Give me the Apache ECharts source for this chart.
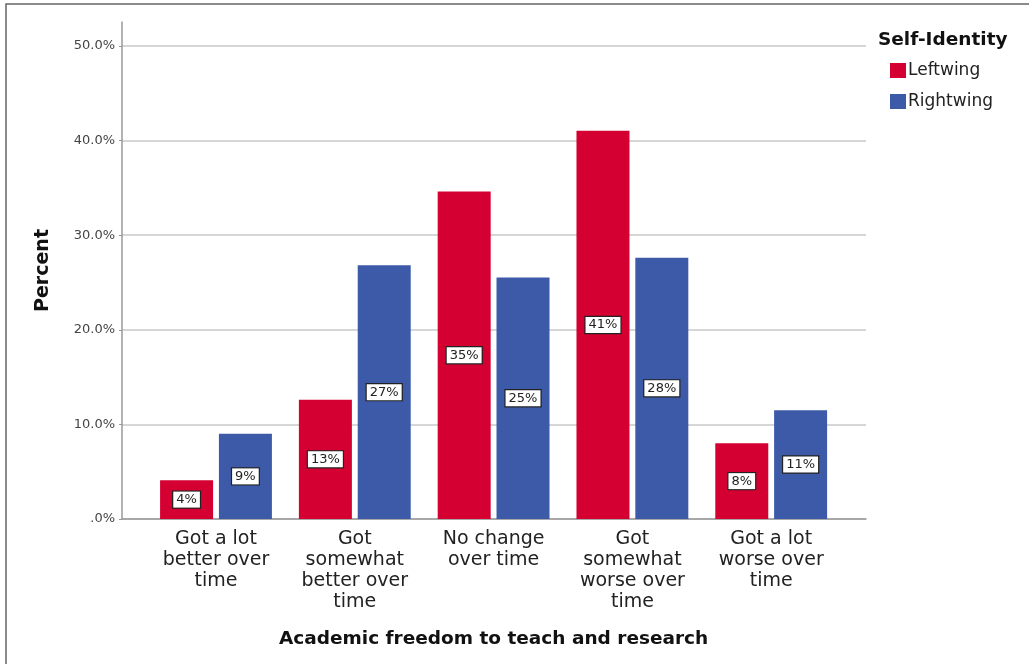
<!DOCTYPE html>
<html>
<head>
<meta charset="utf-8">
<script src="https://cdn.jsdelivr.net/npm/echarts@6/dist/echarts.min.js"></script>
<style>
html,body{margin:0;padding:0;background:#fff;}
#c{width:1029px;height:664px;}
</style>
</head>
<body>
<div id="c"></div>
<script>
const categories = [
  "Got a lot\nbetter over\ntime",
  "Got\nsomewhat\nbetter over\ntime",
  "No change\nover time",
  "Got\nsomewhat\nworse over\ntime",
  "Got a lot\nworse over\ntime"
];
const leftwing = [4.1, 12.6, 34.6, 41.0, 8.0];
const rightwing = [9.0, 26.8, 25.5, 27.6, 11.5];
const leftLabels = ["4%", "13%", "35%", "41%", "8%"];
const rightLabels = ["9%", "27%", "25%", "28%", "11%"];
const yTicks = [0, 10, 20, 30, 40, 50];

const font = "DejaVu Sans";
const chart = echarts.init(document.getElementById('c'));

function boxLabel(labels) {
  return {
    show: true,
    position: 'inside',
    formatter: p => labels[p.dataIndex],
    backgroundColor: '#fff',
    borderColor: '#222',
    borderWidth: 1.2,
    padding: [2, 3, 1, 3],
    color: '#222',
    fontFamily: font,
    fontSize: 13
  };
}

chart.setOption({
  animation: false,
  backgroundColor: '#fff',
  textStyle: { fontFamily: font },
  title: {
    text: 'Self-Identity',
    left: 873, top: 26,
    textStyle: { fontFamily: font, fontWeight: 'bold', fontSize: 18.5, color: '#111' }
  },
  legend: {
    orient: 'vertical',
    left: 890, top: 62, padding: 0,
    itemWidth: 16, itemHeight: 15, itemGap: 14,
    icon: 'rect',
    textStyle: { fontFamily: font, fontSize: 17, color: '#222', padding: [0, 0, 0, -3] },
    data: ['Leftwing', 'Rightwing']
  },
  graphic: [{
    type: 'rect',
    shape: { x: 6, y: 4, width: 1040, height: 680 },
    style: { fill: 'none', stroke: '#666', lineWidth: 1.5 },
    z: 100
  }],
  grid: [
    { left: 122, width: 744, top: 22, height: 497 },
    { left: 122, width: 744, top: 46, height: 473 },
    { left: 146.6, width: 694, top: 22, height: 497 }
  ],
  xAxis: [
    { gridIndex: 0, type: 'value', min: 0, max: 1,
      axisLine: { show: true, onZero: false, lineStyle: { color: '#999', width: 1.5 } },
      axisTick: { show: false }, axisLabel: { show: false }, splitLine: { show: false } },
    { gridIndex: 1, type: 'value', min: 0, max: 1, show: false },
    { gridIndex: 2, type: 'category', data: categories,
      axisLine: { show: false }, axisTick: { show: false },
      axisLabel: { fontFamily: font, fontSize: 19, lineHeight: 21, color: '#222', margin: 10, interval: 0 },
      name: 'Academic freedom to teach and research',
      nameLocation: 'middle', nameGap: 111,
      nameTextStyle: { fontFamily: font, fontSize: 18.5, fontWeight: 'bold', color: '#111' } }
  ],
  yAxis: [
    { gridIndex: 0, type: 'value', min: 0, max: 52.5,
      axisLine: { show: true, lineStyle: { color: '#999', width: 1.5 } },
      axisTick: { show: false }, axisLabel: { show: false }, splitLine: { show: false },
      name: 'Percent', nameLocation: 'middle', nameGap: 69, nameRotate: 90,
      nameTextStyle: { fontFamily: font, fontSize: 19, fontWeight: 'bold', color: '#111' } },
    { gridIndex: 1, type: 'value', min: yTicks[0], max: yTicks[yTicks.length - 1], interval: 10,
      axisLine: { show: false },
      axisTick: { show: true, length: 3, lineStyle: { color: '#999' } },
      axisLabel: { fontFamily: font, fontSize: 13, color: '#444', margin: 7,
        formatter: v => (v === 0 ? '.0%' : v.toFixed(1) + '%') },
      splitLine: { show: true, lineStyle: { color: '#c8c8c8', width: 1.5 } } },
    { gridIndex: 2, type: 'value', min: 0, max: 52.5, show: false }
  ],
  series: [
    { name: 'Leftwing', type: 'bar', xAxisIndex: 2, yAxisIndex: 2,
      data: leftwing, barWidth: 53, barGap: '11%',
      itemStyle: { color: '#d50032' }, label: boxLabel(leftLabels) },
    { name: 'Rightwing', type: 'bar', xAxisIndex: 2, yAxisIndex: 2,
      data: rightwing, barWidth: 53, barGap: '11%',
      itemStyle: { color: '#3c5aa8' }, label: boxLabel(rightLabels) }
  ]
});
</script>
</body>
</html>
